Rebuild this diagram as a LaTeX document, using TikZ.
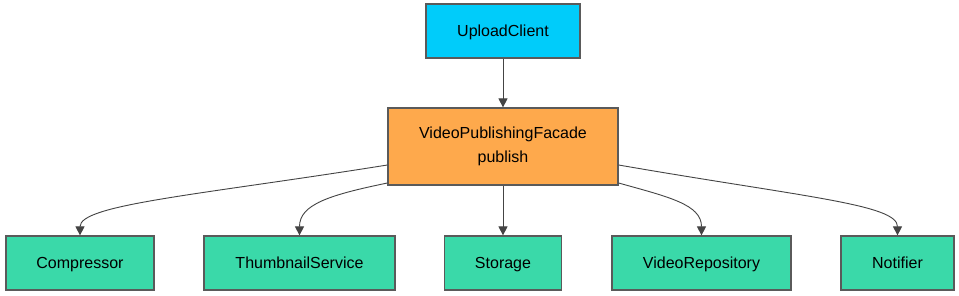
\documentclass[tikz,border=0pt]{standalone}
\usepackage{fontspec}
\setmainfont{Liberation Sans}
\usetikzlibrary{arrows.meta}
\definecolor{clientc}{HTML}{00CCFA}
\definecolor{facadec}{HTML}{FEA94C}
\definecolor{subc}{HTML}{3AD9A9}
\definecolor{borderc}{HTML}{5A5A5A}
\definecolor{edgec}{HTML}{444444}
\tikzset{
  box/.style={draw=borderc, line width=1.2pt, inner sep=0pt, align=center,
    font=\fontsize{16}{24}\selectfont, text=black},
  onebox/.style={box, text height=11.5pt, text depth=1pt, minimum height=54pt},
  arr/.style={draw=edgec, line width=0.9pt, -{Triangle[width=9pt,length=9pt]}},
}
\begin{document}
\begin{tikzpicture}[x=1pt,y=1pt]
\useasboundingbox (0,0) rectangle (959,-296);
\fill[white] (0,0) rectangle (959,-296);
\node[onebox, fill=clientc, minimum width=154pt] (client) at (503,-31) {UploadClient};
\node[box, fill=facadec, minimum width=230pt, minimum height=77pt] (facade) at (503,-146.5) {VideoPublishingFacade\\publish};
\node[onebox, fill=subc, minimum width=148pt] (comp) at (80,-263) {Compressor};
\node[onebox, fill=subc, minimum width=191pt] (thumb) at (299.5,-263) {ThumbnailService};
\node[onebox, fill=subc, minimum width=117pt] (store) at (503,-263) {Storage};
\node[onebox, fill=subc, minimum width=179pt] (repo) at (701.5,-263) {VideoRepository};
\node[onebox, fill=subc, minimum width=113pt] (notif) at (897.5,-263) {Notifier};

\draw[arr] (client.south) -- (facade.north);
\draw[arr] (facade.south) -- (store.north);
\draw[arr] ([yshift=-18.5pt]facade.west) .. controls +(-188,-30) and +(0,31) .. (comp.north);
\draw[arr] ([yshift=-36.5pt]facade.west) .. controls +(-58,-12) and +(0,31) .. (thumb.north);
\draw[arr] ([yshift=-36.5pt]facade.east) .. controls +(50,-14) and +(0,31) .. (repo.north);
\draw[arr] ([yshift=-18.5pt]facade.east) .. controls +(185,-32) and +(0,31) .. (notif.north);
\end{tikzpicture}
\end{document}
